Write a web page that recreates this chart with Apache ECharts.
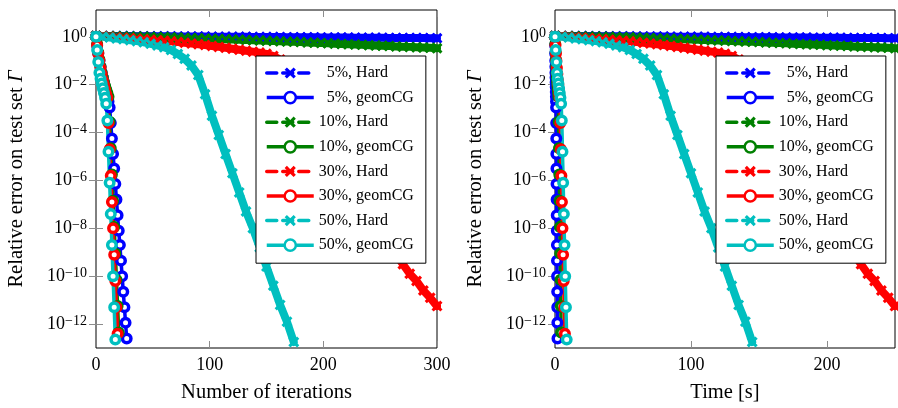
<!DOCTYPE html>
<html>
<head>
<meta charset="utf-8">
<script src="https://cdn.jsdelivr.net/npm/echarts@6/dist/echarts.min.js"></script>
<style>html,body{margin:0;padding:0;background:#fff}#c{width:898px;height:408px}</style>
</head>
<body>
<div id="c"></div>
<script>
// ---------- data (errors stored as log10 values) ----------
const hardIter = [0,6,12,18,24,30,36,42,48,54,60,66,72,78,84,90,96,102,108,114,120,126,132,138,144,150,156,162,168,174,180,186,192,198,204,210,216,222,228,234,240,246,252,258,264,270,276,282,288,294,300];
const hardTime = [0,5,10,15,20,25,30,35,40,45,50,55,60,65,70,75,80,85,90,95,100,105,110,115,120,125,130,135,140,145,150,155,160,165,170,175,180,185,190,195,200,205,210,215,220,225,230,235,240,245,250];

const hard5Log  = [0.04,0.038,0.037,0.035,0.033,0.031,0.029,0.028,0.026,0.024,0.022,0.02,0.018,0.016,0.014,0.012,0.01,0.008,0.006,0.004,0.002,0,-0.002,-0.004,-0.006,-0.008,-0.01,-0.012,-0.014,-0.016,-0.018,-0.02,-0.022,-0.024,-0.026,-0.028,-0.03,-0.032,-0.034,-0.036,-0.038,-0.04,-0.042,-0.044,-0.046,-0.048,-0.05,-0.052,-0.054,-0.056,-0.058];
const hard10Log = [0.04,0.035,0.03,0.025,0.02,0.015,0.01,0.005,0,-0.005,-0.01,-0.02,-0.03,-0.04,-0.05,-0.06,-0.07,-0.08,-0.09,-0.1,-0.11,-0.12,-0.13,-0.14,-0.15,-0.16,-0.175,-0.19,-0.2,-0.21,-0.22,-0.235,-0.25,-0.26,-0.27,-0.285,-0.3,-0.31,-0.32,-0.335,-0.35,-0.36,-0.37,-0.385,-0.4,-0.41,-0.42,-0.435,-0.45,-0.46,-0.475];
const hard30Log = [0.03,0.02,0,-0.02,-0.04,-0.06,-0.08,-0.1,-0.12,-0.14,-0.16,-0.19,-0.22,-0.25,-0.28,-0.31,-0.34,-0.38,-0.42,-0.46,-0.5,-0.54,-0.58,-0.62,-0.66,-0.71,-0.8,-0.95,-1.2,-1.6,-2.1,-2.6,-3.1,-3.6,-4.1,-4.6,-5.1,-5.6,-6.1,-6.6,-7.1,-7.6,-8.1,-8.6,-9.1,-9.5,-9.9,-10.2,-10.6,-10.9,-11.25];
const hard50Log = [0.02,0,-0.03,-0.07,-0.1,-0.14,-0.18,-0.23,-0.29,-0.36,-0.44,-0.55,-0.72,-0.92,-1.2,-1.6,-2.4,-3.3,-4.1,-4.9,-5.7,-6.5,-7.3,-8.0,-8.8,-9.6,-10.4,-11.2,-11.9,-12.75];

const g5Iter = [0,1,2,3,4,5,6,7,8,9,10,11,12,13,14,15,16,17,18,19,20,21,22,23,24,25,26,27];
const g5Time = [0,0.07,0.13,0.2,0.27,0.33,0.4,0.47,0.54,0.6,0.67,0.74,0.8,0.87,0.94,1.0,1.07,1.14,1.2,1.27,1.34,1.41,1.47,1.54,1.61,1.67,1.74,1.81];
const g5Log  = [0,-0.35,-0.7,-1.0,-1.25,-1.5,-1.7,-1.9,-2.1,-2.3,-2.5,-2.7,-2.95,-3.6,-4.25,-4.9,-5.5,-6.15,-6.8,-7.45,-8.1,-8.7,-9.35,-10.0,-10.65,-11.3,-11.95,-12.6];

const g10Iter = [0,1,2,3,4,5,6,7,8,9,10,11,12,13,14,15,16,17,18,19,20];
const g10Time = [0,0.22,0.45,0.67,0.9,1.12,1.35,1.57,1.8,2.02,2.25,2.47,2.7,2.92,3.15,3.37,3.6,3.82,4.05,4.27,4.5];
const g10Log  = [0,-0.3,-0.65,-0.95,-1.25,-1.5,-1.7,-1.9,-2.05,-2.2,-2.35,-2.5,-3.55,-4.65,-5.75,-6.85,-7.95,-9.05,-10.15,-11.25,-12.35];

const g30Iter = [0,1,2,3,4,5,6,7,8,9,10,11,12,13,14,15,16,17,18,19];
const g30Time = [0,0.35,0.7,1.05,1.4,1.75,2.1,2.45,2.8,3.15,3.5,3.9,4.3,4.7,5.1,5.5,5.95,6.4,6.85,7.3];
const g30Log  = [0,-0.35,-0.7,-1.0,-1.3,-1.55,-1.8,-2.0,-2.2,-2.4,-2.55,-3.6,-4.7,-5.8,-6.9,-8.0,-9.1,-10.2,-11.3,-12.4];

const g50Iter = [0,1,2,3,4,5,6,7,8,9,10,11,12,13,14,15,16,17];
const g50Time = [0,0.5,1.0,1.5,2.0,2.5,3.0,3.5,4.0,4.5,5.0,5.5,6.0,6.5,7.0,7.5,8.05,8.6];
const g50Log  = [0,-0.55,-1.05,-1.5,-1.75,-1.95,-2.15,-2.35,-2.55,-2.8,-3.5,-4.8,-6.1,-7.4,-8.7,-10.0,-11.3,-12.65];

const seriesNames = ['  5%, Hard','  5%, geomCG','10%, Hard','10%, geomCG','30%, Hard','30%, geomCG','50%, Hard','50%, geomCG'];
const colors = ['#0000ff','#008000','#ff0000','#00bfbf'];

const xTicksLeft = [0,100,200,300];
const xTicksRight = [0,100,200];
const yTicks = [1,1e-2,1e-4,1e-6,1e-8,1e-10,1e-12];
const yMin = 1e-13, yMax = 13.2;

// ---------- option building ----------
const FONT = 'Liberation Serif';
const XPATH = 'path://M2,0L5,3L8,0L10,2L7,5L10,8L8,10L5,7L2,10L0,8L3,5L0,2Z';

function toData(xs, logs) { return logs.map((v, i) => [xs[i], Math.pow(10, v)]); }

function hard(name, color, xs, logs, ai) {
  return { name, type: 'line', xAxisIndex: ai, yAxisIndex: ai, data: toData(xs, logs),
    symbol: XPATH, symbolSize: 11, showAllSymbol: true, silent: true,
    lineStyle: { color, width: 8, type: 'solid', join: 'round', cap: 'round' }, itemStyle: { color },
    emphasis: { disabled: true }, animation: false };
}
function geom(name, color, xs, logs, ai) {
  return { name, type: 'line', xAxisIndex: ai, yAxisIndex: ai, data: toData(xs, logs),
    symbol: 'circle', symbolSize: 8.5, showAllSymbol: true, silent: true,
    lineStyle: { color, width: 3.5 }, itemStyle: { color: '#fff', borderColor: color, borderWidth: 3.5 },
    emphasis: { disabled: true }, animation: false };
}

function xAx(grid, max, ticks, name, top) {
  return { type: 'value', gridIndex: grid, min: 0, max: max, position: top ? 'top' : 'bottom',
    axisLine: { show: false }, splitLine: { show: false },
    axisTick: { show: true, inside: true, length: 7, lineStyle: { color: '#8c8c8c', width: 1 }, customValues: ticks.filter(t => t > 0) },
    axisLabel: { show: !top, customValues: ticks, margin: 8, fontFamily: FONT, fontSize: 18, color: '#000' },
    name: top ? '' : name, nameLocation: 'middle', nameGap: 34,
    nameTextStyle: { fontFamily: FONT, fontSize: 20.5, color: '#000' } };
}
function yAx(grid, right) {
  return { type: 'log', logBase: 10, gridIndex: grid, min: yMin, max: yMax, position: right ? 'right' : 'left',
    axisLine: { show: false }, splitLine: { show: false }, minorTick: { show: false },
    axisTick: { show: true, inside: true, length: 7, lineStyle: { color: '#8c8c8c', width: 1 }, customValues: yTicks },
    axisLabel: { show: !right, customValues: yTicks, margin: 9,
      formatter: v => { const e = Math.round(Math.log10(v)); return '{b|10}{s|' + (e < 0 ? '\u2212' + (-e) : e) + '}'; },
      rich: { b: { fontFamily: FONT, fontSize: 18, color: '#000', lineHeight: 20 },
              s: { fontFamily: FONT, fontSize: 14, color: '#000', lineHeight: 14, verticalAlign: 'top' } } },
    name: right ? '' : 'Relative error on test set {i|\u0393}', nameLocation: 'middle', nameGap: 69,
    nameTextStyle: { fontFamily: FONT, fontSize: 20.5, color: '#000',
      rich: { i: { fontFamily: FONT, fontSize: 20.5, fontStyle: 'italic', color: '#000' } } } };
}

const legendData = seriesNames.map((n, i) => ({ name: n,
  lineStyle: i % 2 === 0 ? { width: 3.5, type: [10, 6] } : { width: 3.5, type: 'solid' },
  itemStyle: i % 2 === 0 ? {} : { borderWidth: 2.5 } }));
function legend(left) {
  return { orient: 'vertical', left: left, top: 56, itemWidth: 47, itemHeight: 14, itemGap: 8.6,
    padding: [9, 12, 10, 9], backgroundColor: '#fff', borderColor: '#000', borderWidth: 1,
    selectedMode: false, textStyle: { fontFamily: FONT, fontSize: 16, color: '#000', lineHeight: 16 },
    data: legendData };
}

const series = [];
const hardLogs = [hard5Log, hard10Log, hard30Log, hard50Log];
const gIters = [g5Iter, g10Iter, g30Iter, g50Iter];
const gTimes = [g5Time, g10Time, g30Time, g50Time];
const gLogs = [g5Log, g10Log, g30Log, g50Log];
[0, 2].forEach(ai => {
  for (let k = 0; k < 4; k++) {
    series.push(hard(seriesNames[2 * k], colors[k], ai === 0 ? hardIter : hardTime, hardLogs[k], ai));
    series.push(geom(seriesNames[2 * k + 1], colors[k], ai === 0 ? gIters[k] : gTimes[k], gLogs[k], ai));
  }
});

const option = {
  animation: false,
  backgroundColor: '#fff',
  grid: [
    { left: 96, top: 10, width: 341, height: 340, show: true, borderColor: '#000', borderWidth: 1, backgroundColor: 'transparent' },
    { left: 555, top: 10, width: 340, height: 340, show: true, borderColor: '#000', borderWidth: 1, backgroundColor: 'transparent' }
  ],
  xAxis: [
    xAx(0, 300, xTicksLeft, 'Number of iterations', false),
    xAx(0, 300, xTicksLeft, '', true),
    xAx(1, 250, xTicksRight, 'Time [s]', false),
    xAx(1, 250, xTicksRight, '', true)
  ],
  yAxis: [ yAx(0, false), yAx(0, true), yAx(1, false), yAx(1, true) ],
  legend: [ legend(256), legend(716) ],
  series: series
};
const chart = echarts.init(document.getElementById('c'), null, { renderer: 'canvas' });
chart.setOption(option);
</script>
</body>
</html>
